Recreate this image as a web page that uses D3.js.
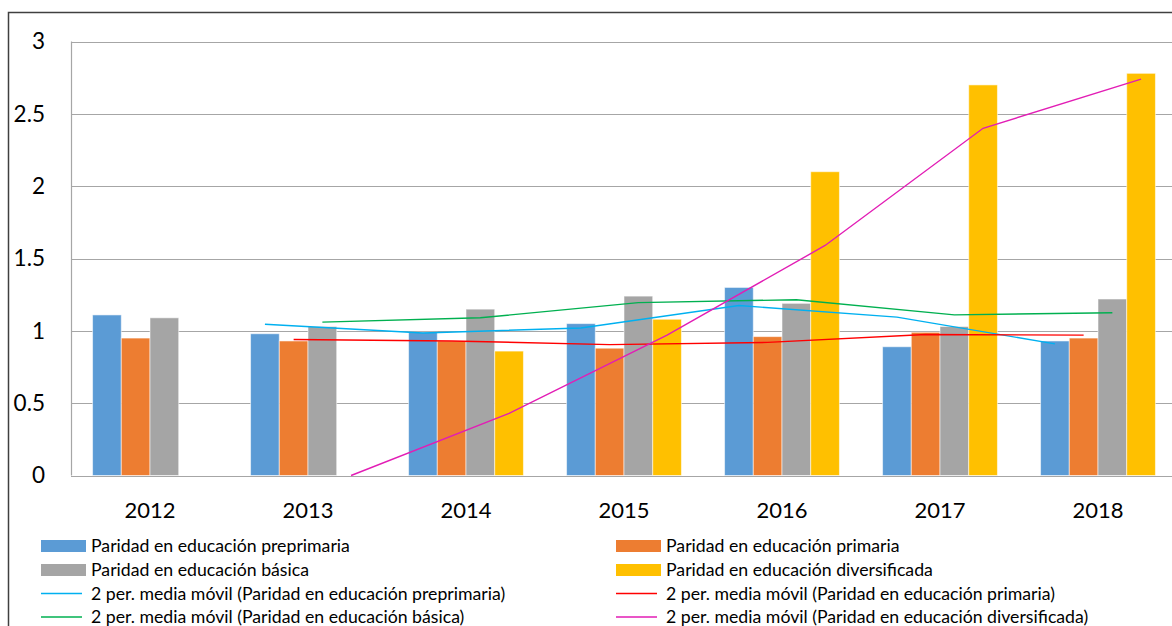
<!DOCTYPE html>
<html>
<head>
<meta charset="utf-8">
<script src="https://cdn.jsdelivr.net/npm/d3@7"></script>
<style>
  html, body { margin: 0; padding: 0; background: #fff; }
  svg { display: block; font-family: Lato, "Open Sans", sans-serif; }
</style>
</head>
<body>
<svg id="chart" width="1172" height="626"></svg>
<script>
// Gender parity indices by education level, 2012–2018
const years = ["2012", "2013", "2014", "2015", "2016", "2017", "2018"];
const preprimaria   = [1.11, 0.98, 0.99, 1.05, 1.30, 0.89, 0.93];
const primaria      = [0.95, 0.93, 0.93, 0.88, 0.96, 0.99, 0.95];
const basica        = [1.09, 1.03, 1.15, 1.24, 1.19, 1.03, 1.22];
const diversificada = [null, null, 0.86, 1.08, 2.10, 2.70, 2.78];
const yTicks = [0, 0.5, 1, 1.5, 2, 2.5, 3];

const barSeries = [
  { key: "pre",  name: "Paridad en educación preprimaria",   values: preprimaria,   color: "#5B9BD5", ma: "#00B0F0" },
  { key: "pri",  name: "Paridad en educación primaria",      values: primaria,      color: "#ED7D31", ma: "#FF0000" },
  { key: "bas",  name: "Paridad en educación básica",        values: basica,        color: "#A5A5A5", ma: "#00B050" },
  { key: "div",  name: "Paridad en educación diversificada", values: diversificada, color: "#FFC000", ma: "#E21DB5" }
];

const svg = d3.select("#chart");

// outer chart border (only left/top edges fall inside the view)
svg.append("rect")
  .attr("x", 8.5).attr("y", 12.5)
  .attr("width", 1300).attr("height", 800)
  .attr("fill", "none").attr("stroke", "#404040").attr("stroke-width", 1.5);

const plot = { left: 71, right: 1177, top: 41.5, bottom: 475.5 };

const x0 = d3.scaleBand().domain(years)
  .range([plot.left, plot.right])
  .paddingInner(0.273).paddingOuter(0.1365);
const x1 = d3.scaleBand().domain(barSeries.map(s => s.key))
  .range([0, x0.bandwidth()]).padding(0);
const y = d3.scaleLinear().domain([0, 3]).range([plot.bottom, plot.top]);

// horizontal gridlines
svg.append("g").selectAll("line").data(yTicks).join("line")
  .attr("x1", plot.left).attr("x2", plot.right)
  .attr("y1", d => Math.round(y(d)) + 0.5).attr("y2", d => Math.round(y(d)) + 0.5)
  .attr("stroke", "#A6A6A6").attr("stroke-width", 1.2);

// vertical axis line
svg.append("line")
  .attr("x1", plot.left + 0.5).attr("x2", plot.left + 0.5)
  .attr("y1", plot.top).attr("y2", plot.bottom)
  .attr("stroke", "#A6A6A6").attr("stroke-width", 1.2);

// y-axis labels
const yAxis = svg.append("g")
  .attr("transform", `translate(${plot.left},0)`)
  .call(d3.axisLeft(y).tickValues(yTicks).tickFormat(d3.format("")).tickSize(0).tickPadding(26));
yAxis.select(".domain").remove();
yAxis.selectAll("text").attr("font-size", 22.5).attr("fill", "#000").attr("font-family", "Lato, sans-serif");

// x-axis labels
const xAxis = svg.append("g")
  .attr("transform", `translate(0,${plot.bottom})`)
  .call(d3.axisBottom(x0).tickSize(0).tickPadding(26.5));
xAxis.select(".domain").remove();
xAxis.selectAll("text").attr("font-size", 22).attr("fill", "#000").attr("font-family", "Lato, sans-serif");

// clustered bars
const groups = svg.append("g").selectAll("g").data(years).join("g")
  .attr("transform", d => `translate(${x0(d)},0)`);
groups.selectAll("rect")
  .data((d, i) => barSeries.filter(s => s.values[i] != null).map(s => ({ s, v: s.values[i] })))
  .join("rect")
  .attr("x", d => x1(d.s.key))
  .attr("width", x1.bandwidth())
  .attr("y", d => y(d.v))
  .attr("height", d => y(0) - y(d.v))
  .attr("fill", d => d.s.color)
  .attr("stroke", "rgba(255,255,255,0.55)")
  .attr("stroke-width", 1);

// 2-period moving averages (missing values count as zero), anchored at each series' bar centre
const line = d3.line().x(d => d.x).y(d => d.y);
barSeries.forEach(s => {
  const pts = [];
  for (let i = 1; i < years.length; i++) {
    const avg = d3.mean([s.values[i - 1] ?? 0, s.values[i] ?? 0]);
    pts.push({ x: x0(years[i]) + x1(s.key) + x1.bandwidth() / 2, y: y(avg) });
  }
  svg.append("path")
    .attr("d", line(pts))
    .attr("fill", "none")
    .attr("stroke", s.ma)
    .attr("stroke-width", 1.4);
});

// legend
const legendItems = [
  { label: barSeries[0].name, type: "rect", color: barSeries[0].color, col: 0, row: 0 },
  { label: barSeries[1].name, type: "rect", color: barSeries[1].color, col: 1, row: 0 },
  { label: barSeries[2].name, type: "rect", color: barSeries[2].color, col: 0, row: 1 },
  { label: barSeries[3].name, type: "rect", color: barSeries[3].color, col: 1, row: 1 },
  { label: "2 per. media móvil (" + barSeries[0].name + ")", type: "line", color: barSeries[0].ma, col: 0, row: 2 },
  { label: "2 per. media móvil (" + barSeries[1].name + ")", type: "line", color: barSeries[1].ma, col: 1, row: 2 },
  { label: "2 per. media móvil (" + barSeries[2].name + ")", type: "line", color: barSeries[2].ma, col: 0, row: 3 },
  { label: "2 per. media móvil (" + barSeries[3].name + ")", type: "line", color: barSeries[3].ma, col: 1, row: 3 }
];
const colX = [41, 616];
const rowY = [546, 570, 593.5, 617];
const leg = svg.append("g").selectAll("g").data(legendItems).join("g")
  .attr("transform", d => `translate(${colX[d.col]},${rowY[d.row]})`);
leg.filter(d => d.type === "rect").append("rect")
  .attr("x", 0).attr("y", -6).attr("width", 45).attr("height", 12)
  .attr("fill", d => d.color);
leg.filter(d => d.type === "line").append("line")
  .attr("x1", 0).attr("x2", 41).attr("y1", 0).attr("y2", 0)
  .attr("stroke", d => d.color).attr("stroke-width", 1.4);
leg.append("text")
  .attr("x", 50).attr("y", 0).attr("dy", "0.35em")
  .attr("font-size", 17.7).attr("fill", "#000")
  .text(d => d.label);
</script>
</body>
</html>
